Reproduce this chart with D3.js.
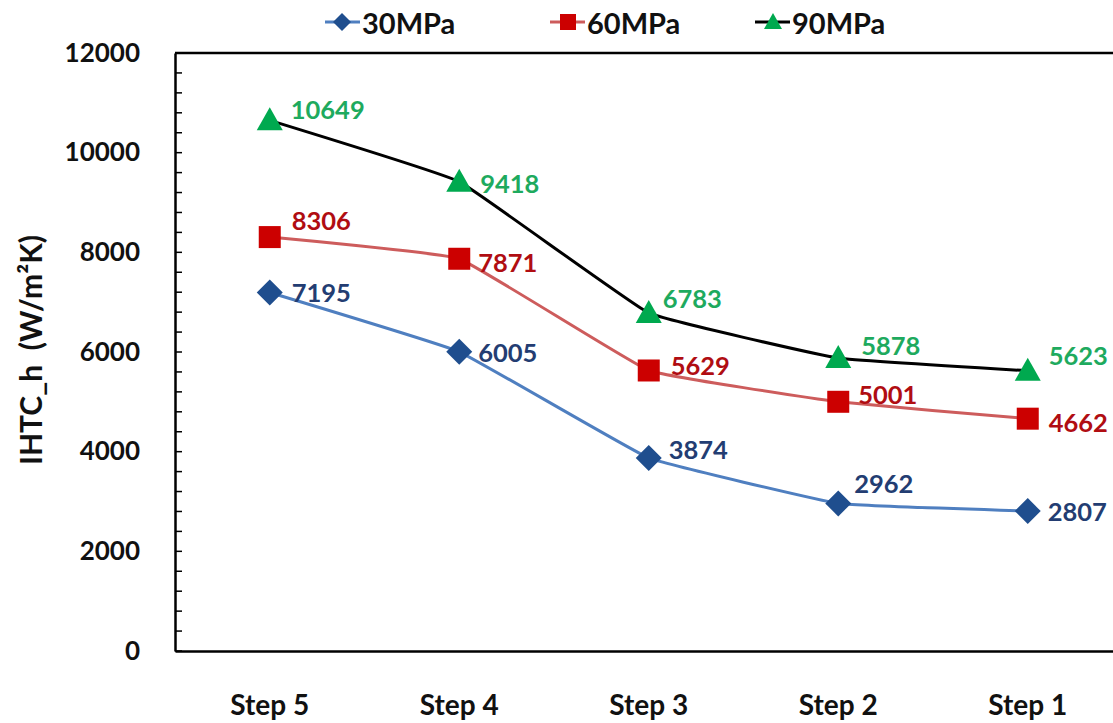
<!DOCTYPE html>
<html><head><meta charset="utf-8">
<script src="https://cdn.jsdelivr.net/npm/d3@7"></script>
<style>
html,body{margin:0;padding:0;background:#fff;}
text{font-family:Lato,"Open Sans",sans-serif;font-weight:bold;}
</style></head>
<body>
<svg id="chart" width="1113" height="723"></svg>
<script>
const categories = ["Step 5","Step 4","Step 3","Step 2","Step 1"];
const seriesNames = ["30MPa","60MPa","90MPa"];
const values30 = [7195,6005,3874,2962,2807];
const values60 = [8306,7871,5629,5001,4662];
const values90 = [10649,9418,6783,5878,5623];
const yTicks = [0,2000,4000,6000,8000,10000,12000];
const yAxisTitle = "IHTC_h  (W/m²K)";

const series = [
  {name:seriesNames[0], values:values30, line:"#4F7FC0", marker:"#1F4E8E", text:"#233D72", shape:"diamond",
   dy:[0,0,-9,-20,0], dx:[22,19,20,16,20]},
  {name:seriesNames[1], values:values60, line:"#CD5C5C", marker:"#CC0000", text:"#B00D12", shape:"square",
   dy:[-17,3,-5,-8,3], dx:[22,19,22,20,21]},
  {name:seriesNames[2], values:values90, line:"#000000", marker:"#00A94F", text:"#1EAA5E", shape:"triangle",
   dy:[-11,1,-15,-13,-16], dx:[21,21,14,23,21]}
];

const svg = d3.select("#chart");
const x = d3.scaleBand().domain(categories).range([175, 175 + 5*189.5]);
const y = d3.scaleLinear().domain([0,12000]).range([651,53]);

// frame top line
svg.append("line").attr("x1",175).attr("x2",1113).attr("y1",y(12000)).attr("y2",y(12000))
  .attr("stroke","#000").attr("stroke-width",2.5);

// y axis
const yAxis = d3.axisLeft(y).tickValues(yTicks).tickSize(0).tickFormat(d3.format("d"));
const gy = svg.append("g").attr("transform","translate(175,0)").call(yAxis);
gy.select(".domain").attr("stroke","#000").attr("stroke-width",2.5);
gy.selectAll("text").attr("font-size",26).attr("fill","#111").attr("x",-35);
// minor ticks inside
const minor = d3.range(0,12001,400);
svg.append("g").selectAll("line").data(minor).join("line")
  .attr("x1",175).attr("x2",182).attr("y1",d=>y(d)).attr("y2",d=>y(d))
  .attr("stroke","#000").attr("stroke-width",1.5);

// x axis
const xAxis = d3.axisBottom(x).tickSize(0).tickPadding(40);
const gx = svg.append("g").attr("transform","translate(0,651)").call(xAxis);
gx.select(".domain").attr("stroke","#000").attr("stroke-width",2.5);
gx.selectAll("text").attr("font-size",28).attr("fill","#111").attr("y",44);

// axis title
svg.append("text").attr("transform","translate(42,350) rotate(-90)")
  .attr("text-anchor","middle").attr("font-size",30).attr("fill","#111")
  .attr("xml:space","preserve").style("white-space","pre").text(yAxisTitle);

const cx = d => x(d) + x.bandwidth()/2;
const line = d3.line().x(d=>cx(d.c)).y(d=>y(d.v)).curve(d3.curveCardinal.tension(0.75));

function drawMarker(g, shape, px, py, color){
  if(shape==="diamond"){
    g.append("path").attr("d",`M${px},${py-13}L${px+13},${py}L${px},${py+13}L${px-13},${py}Z`).attr("fill",color);
  } else if(shape==="square"){
    g.append("rect").attr("x",px-11).attr("y",py-11).attr("width",22).attr("height",22).attr("fill",color);
  } else {
    g.append("path").attr("d",`M${px},${py-13}L${px+13},${py+10}L${px-13},${py+10}Z`).attr("fill",color);
  }
}

series.forEach(s=>{
  const pts = categories.map((c,i)=>({c, v:s.values[i]}));
  svg.append("path").datum(pts).attr("d",line).attr("fill","none")
    .attr("stroke",s.line).attr("stroke-width",3);
});
series.forEach(s=>{
  const g = svg.append("g");
  categories.forEach((c,i)=>{
    drawMarker(g, s.shape, cx(c), y(s.values[i]), s.marker);
    g.append("text").attr("x",cx(c)+s.dx[i]).attr("y",y(s.values[i])+s.dy[i])
      .attr("dominant-baseline","central").attr("font-size",25.5).attr("fill",s.text)
      .text(s.values[i]);
  });
});

// legend
const legendX = [325, 550, 755];
series.forEach((s,i)=>{
  const g = svg.append("g");
  const lx = legendX[i], ly = 22;
  g.append("line").attr("x1",lx).attr("x2",lx+35).attr("y1",ly).attr("y2",ly)
    .attr("stroke",s.line).attr("stroke-width",3);
  if(s.shape==="diamond") g.append("path").attr("d",`M${lx+17},${ly-9}L${lx+26},${ly}L${lx+17},${ly+9}L${lx+8},${ly}Z`).attr("fill",s.marker);
  else if(s.shape==="square") g.append("rect").attr("x",lx+10).attr("y",ly-8).attr("width",16).attr("height",16).attr("fill",s.marker);
  else g.append("path").attr("d",`M${lx+18},${ly-9}L${lx+27},${ly+7}L${lx+9},${ly+7}Z`).attr("fill",s.marker);
  g.append("text").attr("x",lx+37).attr("y",ly).attr("dominant-baseline","central")
    .attr("font-size",29).attr("fill","#111").text(s.name);
});
</script>
</body></html>
